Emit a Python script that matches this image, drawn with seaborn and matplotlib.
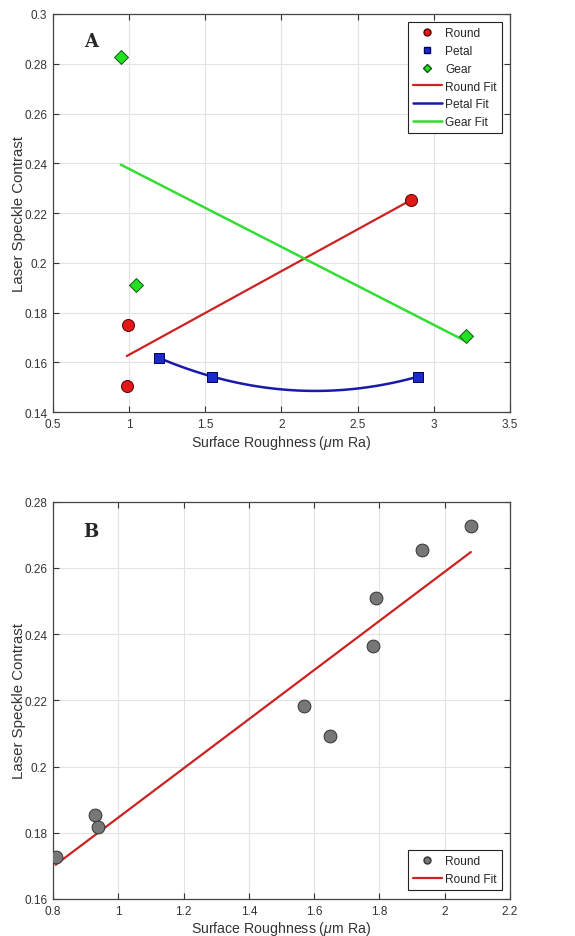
import numpy as np
import pandas as pd
import matplotlib
matplotlib.use('Agg')
import matplotlib.pyplot as plt
import seaborn as sns
from matplotlib.lines import Line2D

# --- Panel A: Messpunkte je Form ---
round_x = [0.985, 0.996, 2.851]
round_y = [0.1504, 0.1752, 0.2252]
petal_x = [1.197, 1.547, 2.897]
petal_y = [0.1618, 0.1543, 0.1543]
gear_x = [0.946, 1.044, 3.209]
gear_y = [0.2826, 0.1913, 0.1705]

# --- Panel B: nur Round ---
b_x = [0.808, 0.930, 0.938, 1.569, 1.649, 1.780, 1.789, 1.930, 2.080]
b_y = [0.1728, 0.1855, 0.1818, 0.2183, 0.2092, 0.2365, 0.2510, 0.2655, 0.2728]

a_xticks = [0.5, 1, 1.5, 2, 2.5, 3, 3.5]
a_yticks = [0.14, 0.16, 0.18, 0.2, 0.22, 0.24, 0.26, 0.28, 0.3]
b_xticks = [0.8, 1, 1.2, 1.4, 1.6, 1.8, 2, 2.2]
b_yticks = [0.16, 0.18, 0.2, 0.22, 0.24, 0.26, 0.28]

sns.set_theme(style="whitegrid")
plt.rcParams['font.family'] = ['Liberation Sans', 'DejaVu Sans']
plt.rcParams['mathtext.fontset'] = 'custom'
plt.rcParams['mathtext.it'] = 'Liberation Sans:italic'
plt.rcParams['mathtext.rm'] = 'Liberation Sans'

red_m, red_l = '#e01818', '#cc2222'
blue_m, blue_l = '#1a2acc', '#1a1aaa'
green_m, green_l = '#22e022', '#33dd33'
gray_m = '#777777'


def fmt(v):
    return ('%.2f' % v).rstrip('0').rstrip('.')


def style_axes(ax, xticks, yticks):
    ax.set_facecolor('white')
    ax.set_xlim(xticks[0], xticks[-1])
    ax.set_ylim(yticks[0], yticks[-1])
    ax.set_xticks(xticks)
    ax.set_yticks(yticks)
    ax.set_xticklabels([fmt(v) for v in xticks])
    ax.set_yticklabels([fmt(v) for v in yticks])
    ax.grid(True, color='#e3e3e3', linewidth=0.8)
    ax.tick_params(direction='in', length=4, width=0.8, colors='#333333',
                   labelsize=8.5, labelcolor='#333333', top=True, right=True,
                   bottom=True, left=True, pad=4)
    for sp in ax.spines.values():
        sp.set_visible(True)
        sp.set_color('#444444')
        sp.set_linewidth(0.9)
    ax.set_xlabel(r'Surface Roughness ($\mu$m Ra)', fontsize=10.2, color='#333333', labelpad=2)
    ax.set_ylabel('Laser Speckle Contrast', fontsize=10.8, color='#333333', labelpad=-1)


def make_legend(ax, handles, labels, **kw):
    leg = ax.legend(handles, labels, fontsize=8.6, handlelength=2.4,
                    handletextpad=0.3, labelspacing=0.48, borderpad=0.45,
                    fancybox=False, framealpha=1, borderaxespad=0, **kw)
    leg.get_frame().set_edgecolor('#222222')
    leg.get_frame().set_linewidth(0.8)
    return leg


fig = plt.figure(figsize=(5.75, 9.37), dpi=100)
ax1 = fig.add_axes([0.092, 0.559, 0.795, 0.425])
ax2 = fig.add_axes([0.092, 0.0395, 0.795, 0.424])

# Panel A
df_r = pd.DataFrame({'x': round_x, 'y': round_y})
df_p = pd.DataFrame({'x': petal_x, 'y': petal_y})
df_g = pd.DataFrame({'x': gear_x, 'y': gear_y})

sns.regplot(data=df_r, x='x', y='y', ax=ax1, scatter=False, ci=None, order=1,
            line_kws=dict(color=red_l, lw=1.6))
sns.regplot(data=df_p, x='x', y='y', ax=ax1, scatter=False, ci=None, order=2,
            line_kws=dict(color=blue_l, lw=1.8))
sns.regplot(data=df_g, x='x', y='y', ax=ax1, scatter=False, ci=None, order=1,
            line_kws=dict(color=green_l, lw=1.8))
sns.scatterplot(data=df_r, x='x', y='y', ax=ax1, marker='o', s=75, color=red_m,
                edgecolor='#550000', linewidth=0.7, zorder=5)
sns.scatterplot(data=df_p, x='x', y='y', ax=ax1, marker='s', s=50, color=blue_m,
                edgecolor='#000055', linewidth=0.7, zorder=5)
sns.scatterplot(data=df_g, x='x', y='y', ax=ax1, marker='D', s=50, color=green_m,
                edgecolor='#115511', linewidth=0.7, zorder=5)
style_axes(ax1, a_xticks, a_yticks)
ax1.text(0.751, 0.289, 'A', fontsize=13, fontweight='bold', family='DejaVu Serif',
         ha='center', va='center')

h_a = [
    Line2D([], [], ls='none', marker='o', ms=5, color=red_m, mec='#550000'),
    Line2D([], [], ls='none', marker='s', ms=4.5, color=blue_m, mec='#000055'),
    Line2D([], [], ls='none', marker='D', ms=4.5, color=green_m, mec='#115511'),
    Line2D([], [], color=red_l, lw=1.6),
    Line2D([], [], color=blue_l, lw=1.8),
    Line2D([], [], color=green_l, lw=1.8),
]
lab_a = ['Round', 'Petal', 'Gear', 'Round Fit', 'Petal Fit', 'Gear Fit']
make_legend(ax1, h_a, lab_a, loc='upper right', bbox_to_anchor=(0.983, 0.98))

# Panel B
df_b = pd.DataFrame({'x': b_x, 'y': b_y})
sns.regplot(data=df_b, x='x', y='y', ax=ax2, scatter=False, ci=None, order=1,
            line_kws=dict(color=red_l, lw=1.6))
sns.scatterplot(data=df_b, x='x', y='y', ax=ax2, marker='o', s=85, color=gray_m,
                edgecolor='#333333', linewidth=0.7, zorder=5)
style_axes(ax2, b_xticks, b_yticks)
ax2.text(0.915, 0.271, 'B', fontsize=13, fontweight='bold', family='DejaVu Serif',
         ha='center', va='center')
h_b = [Line2D([], [], ls='none', marker='o', ms=5, color=gray_m, mec='#333333'),
       Line2D([], [], color=red_l, lw=1.6)]
make_legend(ax2, h_b, ['Round', 'Round Fit'], loc='lower right',
            bbox_to_anchor=(0.983, 0.022))

fig.savefig('out.png', dpi=100, facecolor='white')
